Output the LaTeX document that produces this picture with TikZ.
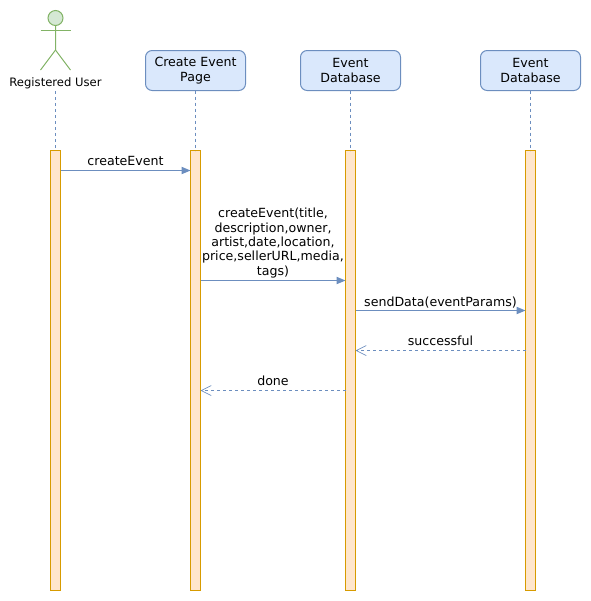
\documentclass[tikz,border=0pt]{standalone}
\usepackage{fontspec}
\setmainfont{DejaVu Sans}
\usetikzlibrary{arrows.meta}
\definecolor{bluel}{HTML}{6C8EBF}
\definecolor{bluef}{HTML}{DAE8FC}
\definecolor{orgl}{HTML}{D79B00}
\definecolor{orgf}{HTML}{FFE6CC}
\definecolor{grnl}{HTML}{82B366}
\definecolor{grnf}{HTML}{D5E8D4}
\tikzset{
  every node/.style={font=\fontsize{9.45pt}{10.75pt}\selectfont, outer sep=0pt, inner sep=0pt},
  head/.style={draw=bluel, fill=bluef, line width=.75pt, rounded corners=5pt, minimum width=75pt, minimum height=30pt, align=center},
  bar/.style={draw=orgl, fill=orgf, line width=.9pt, minimum width=7.5pt, minimum height=330pt},
  life/.style={draw=bluel, line width=.75pt, dash pattern=on 2.25pt off 2.25pt},
  call/.style={draw=bluel, line width=.75pt, -{Triangle[length=6.75pt,width=5.5pt,fill=bluel]}},
  ret/.style={draw=bluel, line width=.75pt, dash pattern=on 2.25pt off 2.25pt, -{Straight Barb[length=7.5pt,width=7.5pt,line width=.5pt]}},
  lab/.style={align=center, anchor=south},
  actorl/.style={draw=grnl, line width=.75pt}
}
\begin{document}
\begin{tikzpicture}[x=.75pt,y=-.75pt]
\useasboundingbox (0,0) rectangle (591,601);
% heads
\node[head] (h2) at (195.5,70.5) {Create Event\\Page};
\node[head] (h3) at (350.5,70.5) {Event\\Database};
\node[head] (h4) at (530.5,70.5) {Event\\Database};
% actor
\node[draw=grnl, fill=grnf, line width=.75pt, circle, minimum size=11.25pt] (ah) at (55.5,18) {};
\coordinate (ab) at (55.5,50);
\coordinate (al) at (40.5,70);
\coordinate (ar) at (70.5,70);
\coordinate (aal) at (40.5,30);
\coordinate (aar) at (70.5,30);
\draw[actorl] (ah.south) -- (ab) -- (al);
\draw[actorl] (ab) -- (ar);
\draw[actorl] (aal) -- (aar);
\node[font=\fontsize{8.7pt}{10pt}\selectfont] (au) at (55.5,83) {Registered User};
% bars
\node[bar] (b1) at (55.5,370.5) {};
\node[bar] (b2) at (195.5,370.5) {};
\node[bar] (b3) at (350.5,370.5) {};
\node[bar] (b4) at (530.5,370.5) {};
% lifelines
\draw[life] ([yshift=-2pt]au.south) -- (b1.north);
\draw[life] (h2.south) -- (b2.north);
\draw[life] (h3.south) -- (b3.north);
\draw[life] (h4.south) -- (b4.north);
% messages
\draw[call] ([yshift=-15pt]b1.north east) -- node[lab, yshift=3.75pt] {createEvent} ([yshift=-15pt]b2.north west);
\draw[call] ([yshift=-97.5pt]b2.north east) -- node[lab, yshift=2pt] {createEvent(title,\\description,owner,\\artist,date,location,\\price,sellerURL,media,\\tags)} ([yshift=-97.5pt]b3.north west);
\draw[call] ([yshift=-120pt]b3.north east) -- node[lab, yshift=2pt] {sendData(eventParams)} ([yshift=-120pt]b4.north west);
\draw[ret] ([yshift=-150pt]b4.north west) -- node[lab, yshift=3.5pt] {successful} ([yshift=-150pt]b3.north east);
\draw[ret] ([yshift=-180pt]b3.north west) -- node[lab, yshift=3.5pt] {done} ([yshift=-180pt]b2.north east);
\end{tikzpicture}
\end{document}
